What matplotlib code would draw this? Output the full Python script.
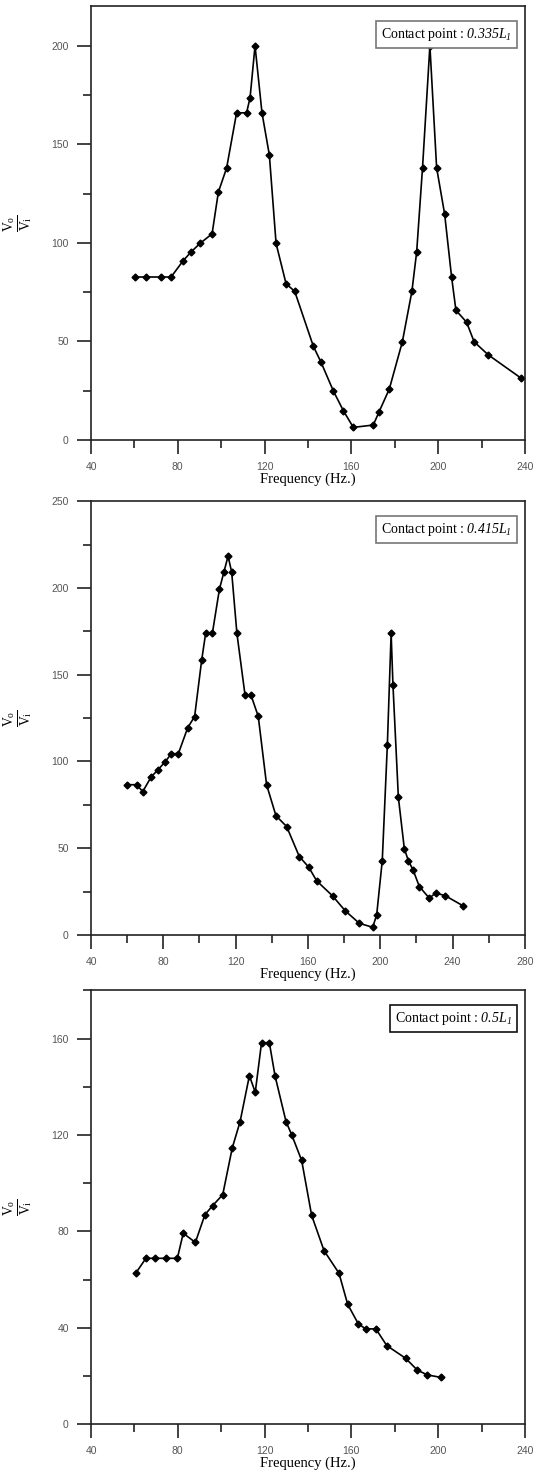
import matplotlib
matplotlib.use("Agg")
import matplotlib.pyplot as plt
from matplotlib.ticker import MultipleLocator

# contact point 0.335 L1
freq_a = [60.3, 65.3, 72.1, 76.9, 82.5, 86.1, 90.2, 95.8, 98.7, 102.5, 107.1, 111.7,
          113.3, 115.6, 118.8, 122.2, 125.3, 129.9, 133.9, 142.5, 146.0, 151.7, 156.3,
          160.9, 170.1, 172.7, 177.5, 183.5, 187.9, 190.1, 192.8, 196.2, 199.3, 203.0,
          206.2, 208.2, 213.1, 216.6, 223.1, 238.2]
ratio_a = [82.7, 82.7, 82.7, 82.7, 91.0, 95.4, 99.7, 104.6, 125.8, 138.0, 166.0, 166.0,
           173.6, 200.0, 166.0, 144.6, 99.7, 79.3, 75.4, 47.5, 39.5, 24.9, 14.9,
           6.4, 7.6, 14.1, 25.9, 49.8, 75.4, 95.4, 138.1, 200.0, 138.1, 114.6,
           82.7, 65.8, 59.8, 49.8, 43.2, 31.4]

# contact point 0.415 L1
freq_b = [60.1, 65.3, 68.6, 73.2, 77.1, 81.1, 84.4, 88.3, 93.5, 97.3, 101.2, 103.4,
          107.1, 111.0, 113.5, 115.8, 117.8, 120.7, 125.2, 128.5, 132.5, 137.1, 142.3,
          148.2, 155.2, 160.4, 164.8, 173.6, 180.6, 188.4, 195.8, 198.0, 201.1, 203.9,
          206.0, 207.0, 210.0, 213.3, 215.5, 218.2, 221.6, 227.1, 230.6, 235.8, 245.9]
ratio_b = [86.6, 86.6, 82.6, 91.0, 95.3, 99.9, 104.5, 104.5, 119.5, 125.9, 158.4, 173.8,
           173.8, 199.2, 209.2, 218.4, 209.2, 173.8, 138.2, 138.2, 126.0, 86.6, 68.7,
           62.5, 45.2, 39.1, 31.2, 22.5, 13.9, 6.7, 4.4, 11.5, 42.9, 109.3,
           173.8, 144.3, 79.3, 49.7, 42.9, 37.3, 27.9, 21.2, 24.1, 22.7, 16.7]

# contact point 0.5 L1
freq_c = [60.6, 65.3, 69.5, 74.4, 79.8, 82.5, 88.1, 92.5, 96.1, 100.7, 105.1, 108.7,
          113.0, 115.7, 118.6, 122.2, 124.8, 129.9, 132.5, 137.1, 141.7, 147.4, 154.3,
          158.3, 163.2, 166.6, 171.3, 176.3, 185.0, 190.4, 195.0, 201.1]
ratio_c = [62.6, 68.8, 68.8, 68.8, 68.8, 79.2, 75.4, 86.9, 90.7, 95.2, 114.6, 125.5,
           144.6, 137.7, 158.3, 158.3, 144.6, 125.5, 120.1, 109.4, 86.6, 72.0, 62.6,
           49.7, 41.6, 39.5, 39.5, 32.6, 27.3, 22.4, 20.4, 19.4]

labels = ["0.335L_1", "0.415L_1", "0.5L_1"]

# sf slot holds the italic serif so the digits come out italic too
plt.rcParams["mathtext.fontset"] = "custom"
plt.rcParams["mathtext.rm"] = "Liberation Serif"
plt.rcParams["mathtext.it"] = "Liberation Serif:italic"
plt.rcParams["mathtext.sf"] = "Liberation Serif:italic"

fig = plt.figure(figsize=(5.37, 14.84), dpi=100)

panels = [
    (freq_a, ratio_a, (40, 240), (0, 220), 50, 25, 0.7035, "#777777"),
    (freq_b, ratio_b, (40, 280), (0, 250), 50, 25, 0.3700, "#777777"),
    (freq_c, ratio_c, (40, 240), (0, 180), 40, 20, 0.0404, "#111111"),
]

for (fx, fy, xl, yl, ymaj, ymin, bottom, boxcol), lab in zip(panels, labels):
    ax = fig.add_axes([0.1695, bottom, 0.808, 0.2922])
    ax.plot(fx, fy, color="black", lw=1.2, marker="D", ms=3.5,
            mfc="black", mec="black")
    ax.set_xlim(xl)
    ax.set_ylim(yl)
    ax.xaxis.set_major_locator(MultipleLocator(40))
    ax.xaxis.set_minor_locator(MultipleLocator(20))
    ax.yaxis.set_major_locator(MultipleLocator(ymaj))
    ax.yaxis.set_minor_locator(MultipleLocator(ymin))
    ax.tick_params(which="major", direction="out", length=10, width=1.2,
                   color="#222222", labelsize=7.5, labelcolor="#555555", pad=6)
    ax.tick_params(which="minor", direction="out", length=6, width=1.2,
                   color="#222222")
    for lbl in ax.get_xticklabels() + ax.get_yticklabels():
        lbl.set_family("Liberation Sans")
    for s in ax.spines.values():
        s.set_linewidth(1.2)
        s.set_color("#222222")
    ax.set_xlabel("Frequency (Hz.)", family="Liberation Serif", fontsize=10.5,
                  labelpad=0)
    ax.set_ylabel(r"$\frac{\mathrm{V_o}}{\mathrm{V_i}}$", fontsize=14,
                  labelpad=12)
    ax.text(0.97, 0.955, "Contact point : " + r"$\mathsf{" + lab + "}$",
            transform=ax.transAxes, ha="right", va="top",
            family="Liberation Serif", fontsize=10,
            bbox=dict(boxstyle="square,pad=0.35", fc="white", ec=boxcol, lw=1.2))

fig.savefig("out.png", dpi=100)
